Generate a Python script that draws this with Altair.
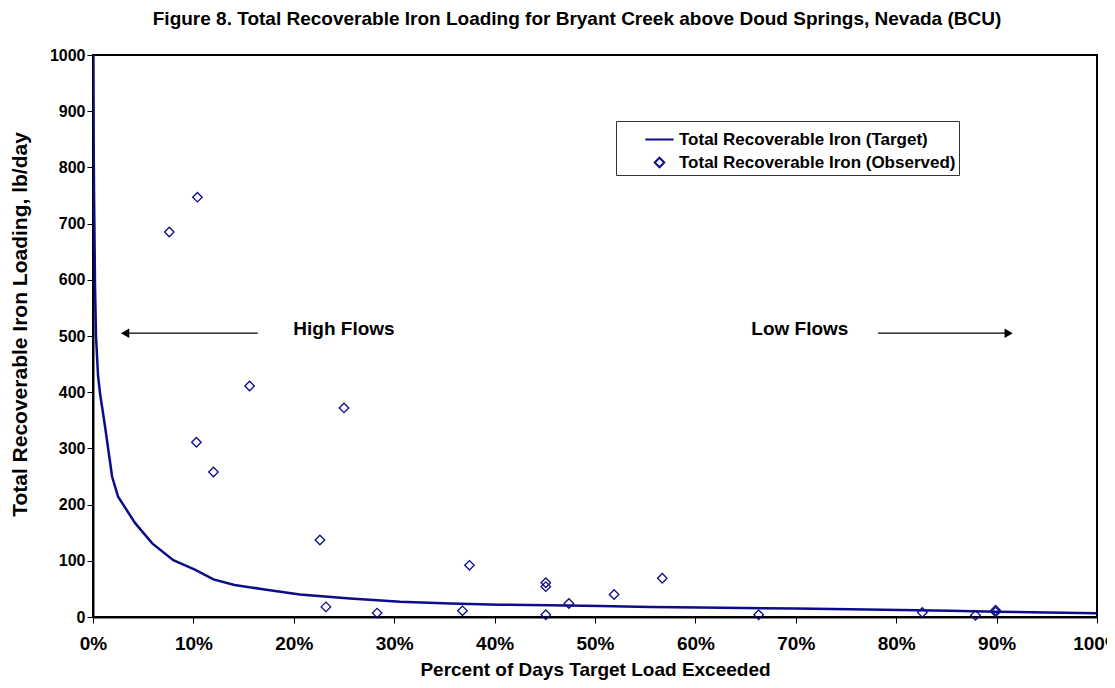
import altair as alt
import pandas as pd

FONT = "Liberation Sans"
NAVY = "#0c0c8a"

series_names = ["Total Recoverable Iron (Target)", "Total Recoverable Iron (Observed)"]

# Target load duration curve (percent of days exceeded, lb/day)
target_pct = [0, 0.1, 0.2, 0.3, 0.5, 0.7, 1.2, 1.9, 2.5, 4.2, 5.9, 8.0, 10.2, 12.0, 14.1,
              17.1, 20.6, 25.6, 30.6, 35.6, 40.5, 45.5, 50.5, 55.5, 60.5, 70.0, 75.4,
              85.4, 90.0, 95.0, 100.0]
target_load = [1000, 760, 590, 500, 430, 398, 339, 250, 214, 167, 131, 101, 84, 67, 57,
               49, 40, 33, 27, 24, 22, 21, 19.6, 18, 17, 15, 13.7,
               11, 9.5, 8, 6.5]

# Observed loads
obs_pct = [7.6, 10.4, 15.6, 10.3, 12.0, 25.0, 22.6, 23.2, 28.3, 37.5, 36.8, 45.1, 45.1,
           45.1, 47.4, 51.9, 56.7, 66.3, 82.6, 87.9, 89.9, 89.9]
obs_load = [685, 747, 411, 311, 258, 372, 137, 18, 7, 92, 11, 61, 54,
            4, 24, 40, 69, 4, 8, 3, 9, 12]

# Annotations
ann_text = ["High Flows", "Low Flows"]
ann_x = [25.0, 70.4]
ann_y = [512, 512]
arrow_from = [16.4, 78.2]
arrow_to = [3.2, 91.2]
arrow_y = [505, 505]

target_df = pd.DataFrame({"pct": target_pct, "load": target_load, "series": series_names[0]})
obs_df = pd.DataFrame({"pct": obs_pct, "load": obs_load, "series": series_names[1]})
ann_df = pd.DataFrame({"text": ann_text, "x": ann_x, "y": ann_y})
arrow_df = pd.DataFrame({"x": arrow_from, "x2": arrow_to, "y": arrow_y})
left_head = arrow_df.iloc[[0]]
right_head = arrow_df.iloc[[1]]

x_enc = alt.X(
    "pct:Q",
    scale=alt.Scale(domain=[0, 100], nice=False, zero=False),
    axis=alt.Axis(
        title="Percent of Days Target Load Exceeded",
        values=list(range(0, 101, 10)),
        labelExpr="datum.value + '%'",
        grid=False,
        tickSize=6,
        tickColor="black",
        domainColor="black",
        domainWidth=2,
        labelFont=FONT,
        labelFontSize=19,
        labelFontWeight="bold",
        labelColor="black",
        labelPadding=11,
        labelFlush=False,
        titleFont=FONT,
        titleFontSize=19,
        titleFontWeight="bold",
        titleColor="black",
        titleY=43,
    ),
)
y_enc = alt.Y(
    "load:Q",
    scale=alt.Scale(domain=[0, 1000], nice=False),
    axis=alt.Axis(
        title="Total Recoverable Iron Loading, lb/day",
        values=list(range(0, 1001, 100)),
        format="d",
        grid=False,
        tickSize=6,
        tickColor="black",
        domainColor="black",
        domainWidth=2,
        labelFont=FONT,
        labelFontSize=16,
        labelFontWeight="bold",
        labelColor="black",
        labelPadding=2,
        titleFont=FONT,
        titleFontSize=21,
        titleFontWeight="bold",
        titleColor="black",
        titleX=-63,
        titleY=269,
    ),
)

color_scale = alt.Scale(domain=series_names, range=[NAVY, NAVY])
shape_scale = alt.Scale(domain=series_names, range=["stroke", "diamond"])
size_scale = alt.Scale(domain=series_names, range=[800, 90])

legend = alt.Legend(title=None)

line = alt.Chart(target_df).mark_line(strokeWidth=2.5, clip=True).encode(
    x=x_enc, y=y_enc,
    color=alt.Color("series:N", scale=color_scale, legend=legend),
)

points = alt.Chart(obs_df).mark_point(filled=False, strokeWidth=1.3, opacity=1).encode(
    x="pct:Q", y="load:Q",
    color=alt.Color("series:N", scale=color_scale, legend=legend),
    shape=alt.Shape("series:N", scale=shape_scale, legend=legend),
    size=alt.Size("series:N", scale=size_scale, legend=legend),
)

text = alt.Chart(ann_df).mark_text(
    font=FONT, fontSize=19, fontWeight="bold", color="black", baseline="middle"
).encode(x="x:Q", y="y:Q", text="text:N")

rules = alt.Chart(arrow_df).mark_rule(color="black", strokeWidth=1.2).encode(
    x="x:Q", x2="x2", y="y:Q"
)
head_l = alt.Chart(left_head).mark_point(
    shape="triangle-left", filled=True, color="black", size=90, opacity=1
).encode(x="x2:Q", y="y:Q")
head_r = alt.Chart(right_head).mark_point(
    shape="triangle-right", filled=True, color="black", size=90, opacity=1
).encode(x="x2:Q", y="y:Q")

chart = alt.layer(line, points, rules, head_l, head_r, text).properties(
    width=1004,
    height=562,
    autosize=alt.AutoSizeParams(type="none"),
    padding={"left": 85, "top": 47, "right": 10, "bottom": 63},
    title=alt.TitleParams(
        "Figure 8.  Total Recoverable Iron Loading for Bryant Creek above Doud Springs, Nevada (BCU)",
        font=FONT, fontSize=19, fontWeight="bold", color="black",
        anchor="middle", offset=18, dx=-18,
    ),
).configure_view(
    stroke="black", strokeWidth=2
).configure_legend(
    orient="none",
    legendX=523,
    legendY=66,
    labelFont=FONT,
    labelFontSize=17,
    labelFontWeight="bold",
    labelColor="black",
    strokeColor="#333333",
    fillColor="white",
    padding=3,
    symbolOffset=25,
    symbolStrokeWidth=2,
    rowPadding=5,
    labelLimit=500,
)

chart.save("out.html", embed_options={"renderer": "svg", "actions": False})
